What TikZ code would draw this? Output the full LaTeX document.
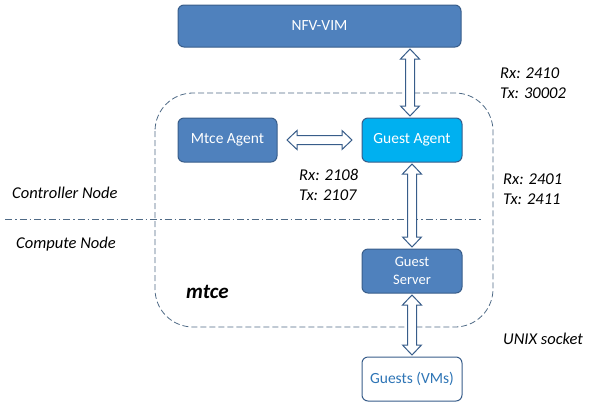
\documentclass[tikz,border=0pt]{standalone}
\usepackage{fontspec}
\setmainfont{Carlito}
\usetikzlibrary{calc}
\definecolor{boxblue}{HTML}{4F81BD}
\definecolor{boxborder}{HTML}{385D8A}
\definecolor{cyanbox}{HTML}{00B0F0}
\definecolor{arrowc}{HTML}{385D8A}
\definecolor{dashc}{HTML}{4F6A86}
\definecolor{guesttext}{HTML}{2E75B6}
\tikzset{
  x=1pt, y=-1pt,
  blk/.style={draw=boxborder, line width=1pt, rounded corners=6pt, fill=boxblue, text=white,
    font=\fontsize{15.5}{18}\selectfont, align=center, minimum width=100pt, minimum height=44pt, inner sep=2pt, outer sep=2pt},
  lbl/.style={font=\fontsize{16.5}{20}\selectfont\itshape, align=left, anchor=west, inner sep=0pt},
  darrow/.style={draw=arrowc, fill=white, line width=1pt, to path={
    let \p1=(\tikztostart), \p2=(\tikztotarget),
        \n1={atan2(\y2-\y1,\x2-\x1)}, \n2={veclen(\x2-\x1,\y2-\y1)} in
    {[shift={(\p1)}, rotate=\n1]
      (0pt,0pt) -- (10pt,9.5pt) -- (10pt,4.5pt) -- (\n2-10pt,4.5pt) -- (\n2-10pt,9.5pt) -- (\n2,0pt)
      -- (\n2-10pt,-9.5pt) -- (\n2-10pt,-4.5pt) -- (10pt,-4.5pt) -- (10pt,-9.5pt) -- cycle}
  }}
}
\begin{document}
\begin{tikzpicture}
\useasboundingbox (0,0) rectangle (597,408);
% boundary and separator
\draw[dashc, line width=0.8pt, dash pattern=on 6pt off 3pt, rounded corners=38pt] (155,93) rectangle (493,327);
\draw[dashc, line width=0.8pt, dash pattern=on 7pt off 3pt on 1.5pt off 3pt] (5,219) -- (483,219);
% nodes
\node[blk, minimum width=283pt, minimum height=42pt] (nfv) at (319.5,26) {NFV-VIM};
\node[blk, minimum width=99pt] (mtce) at (227.5,140) {Mtce Agent};
\node[blk, fill=cyanbox] (ga) at (412,140) {Guest Agent};
\node[blk, font=\fontsize{14.5}{18}\selectfont] (gs) at (412,271) {Guest\\Server};
\node[blk, fill=white, text=guesttext] (guests) at (412,379) {Guests (VMs)};
% connectors
\coordinate (topa) at ($(nfv.south -| ga.north)+(-2,0)$);
\coordinate (topb) at ($(ga.north)+(-2,0)$);
\path[darrow] (topa) to (topb);
\path (mtce.east) ++(8,0) coordinate (ma) (ga.west) ++(-8,0) coordinate (mb);
\path[darrow] (ma) to (mb);
\path[darrow] (ga.south) to (gs.north);
\path[darrow] (gs.south) to (guests.north);
% labels
\node[lbl] (l1) at (500,83) {Rx: 2410\\Tx: 30002};
\node[lbl] (l2) at (299,185) {Rx: 2108\\Tx: 2107};
\node[lbl] (l3) at (503,189) {Rx: 2401\\Tx: 2411};
\node[lbl] (ctl) at (12,193) {Controller Node};
\node[lbl] (cmp) at (16,244) {Compute Node};
\node[lbl, font=\fontsize{21}{24}\selectfont\bfseries\itshape] (mt) at (186,292) {mtce};
\node[lbl] (unix) at (503,339) {UNIX socket};
\end{tikzpicture}
\end{document}
